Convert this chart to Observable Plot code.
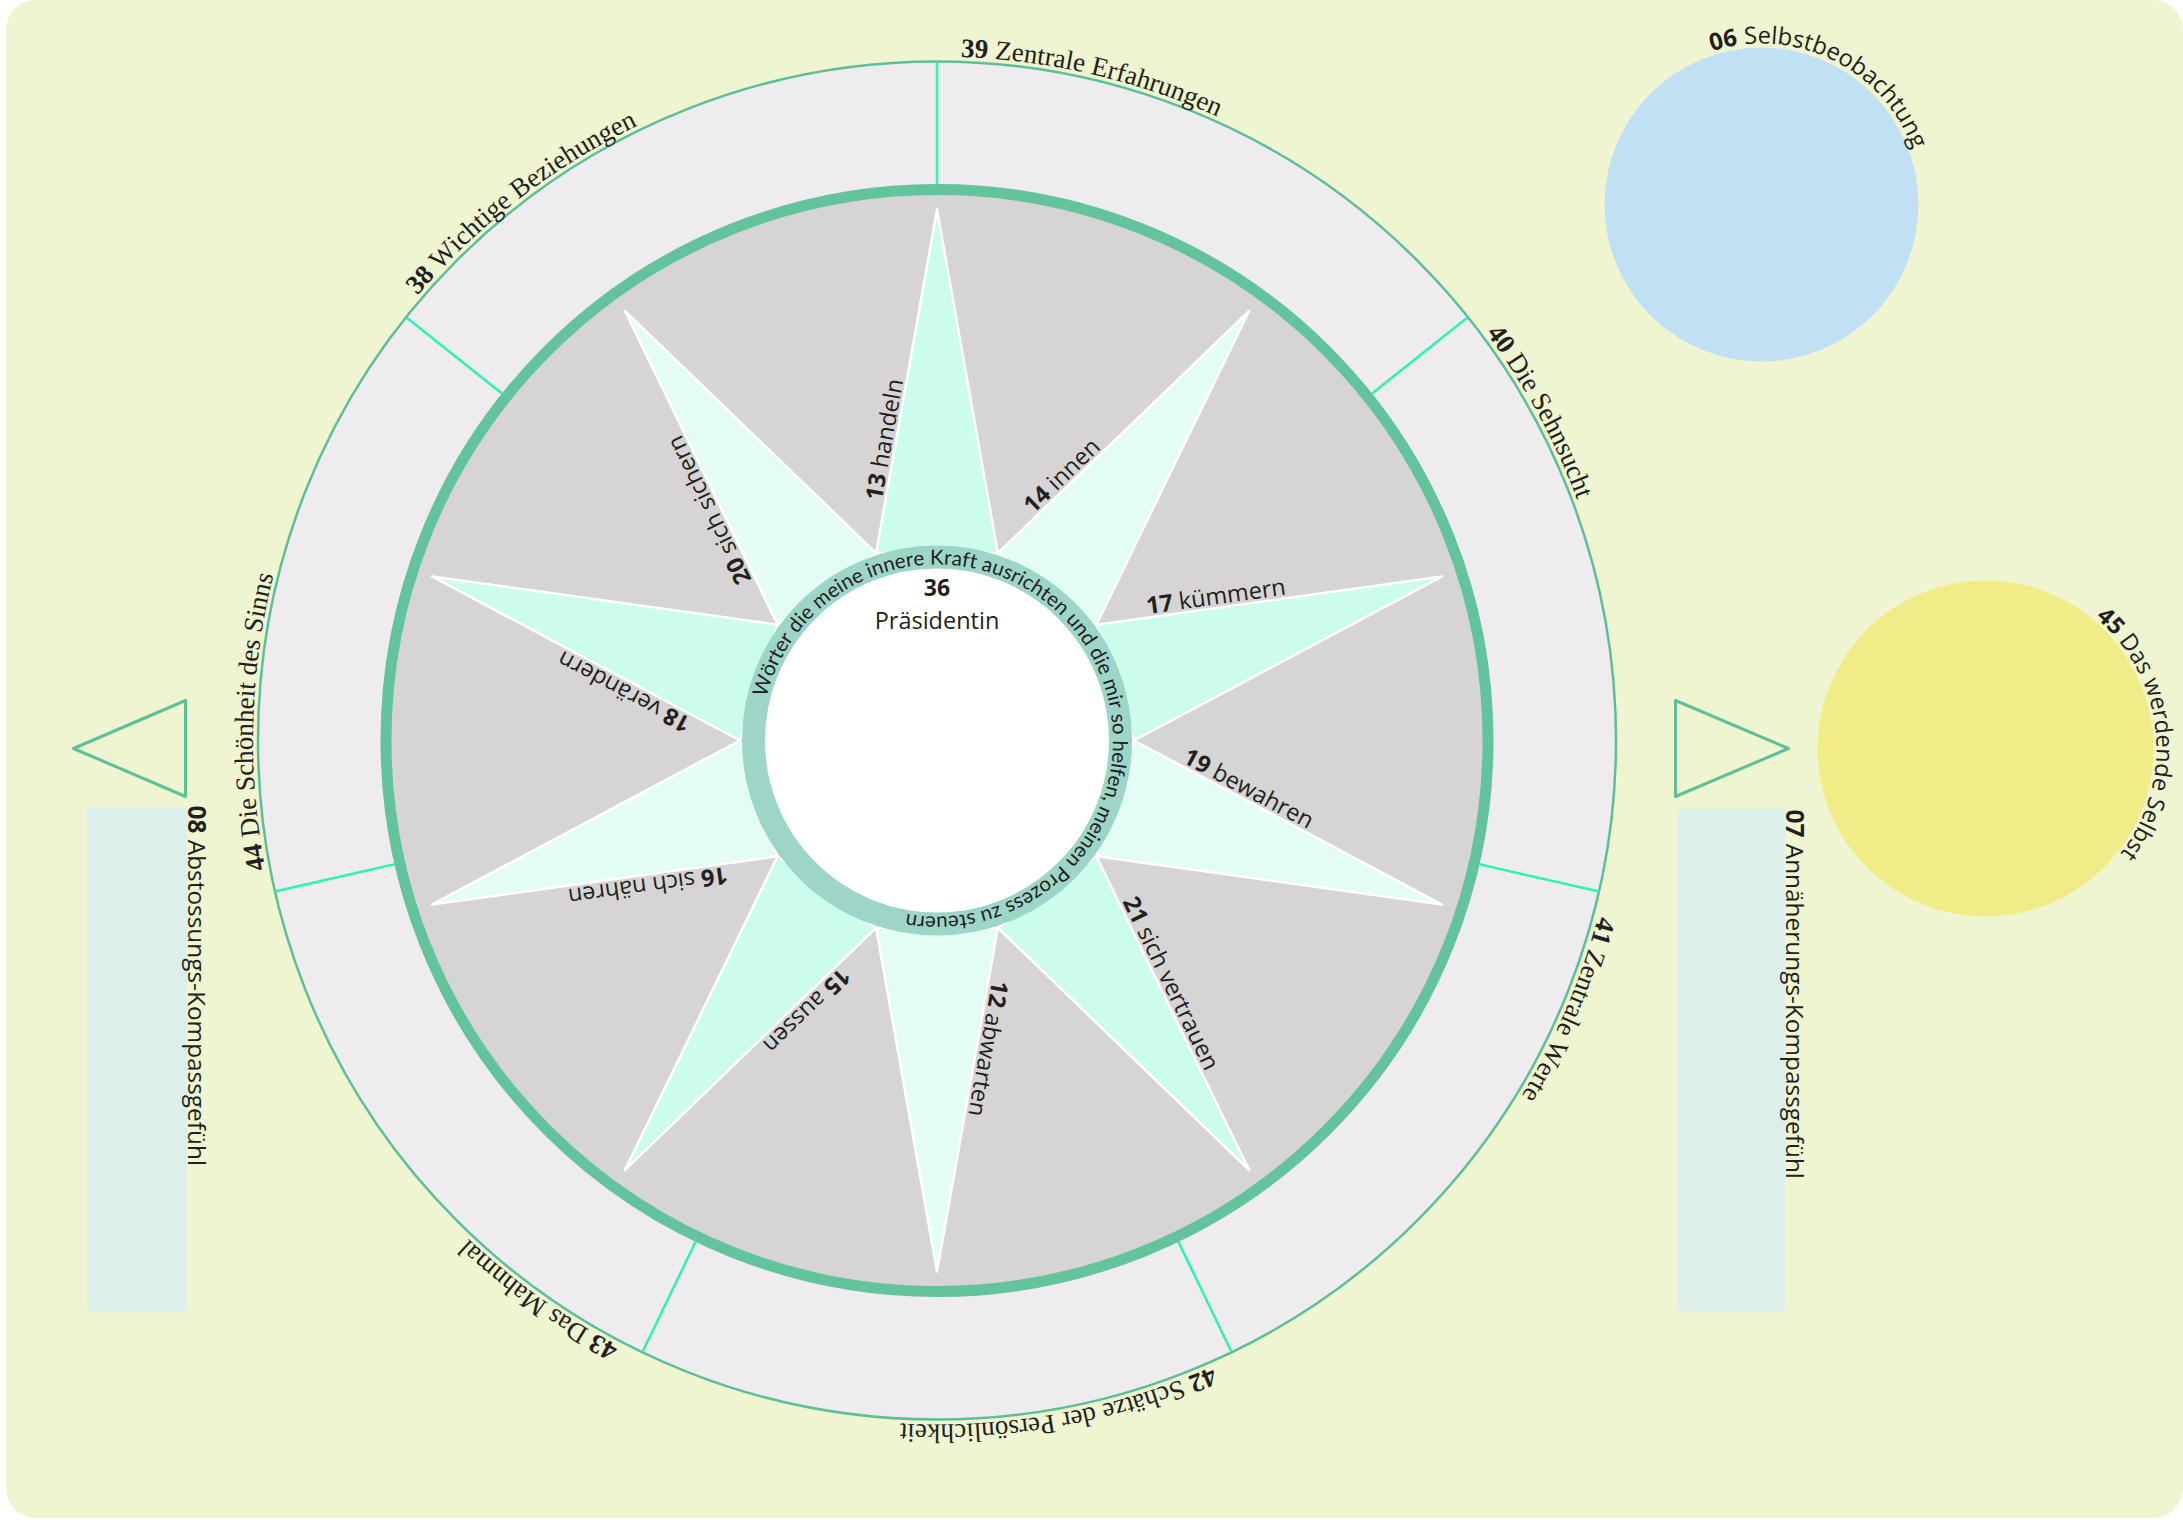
<!DOCTYPE html>
<html>
<head>
<meta charset="utf-8">
<script src="https://cdn.jsdelivr.net/npm/d3@7"></script>
<script src="https://cdn.jsdelivr.net/npm/@observablehq/plot@0.6"></script>
<style>
html, body { margin: 0; padding: 0; background: #ffffff; overflow: hidden; }
#chart svg { display: block; }
</style>
</head>
<body>
<div id="chart"></div>
<script>
// ---------------- data ----------------
// star points, clockwise from the top
const pointNumbers = ["13", "14", "17", "19", "21", "12", "15", "16", "18", "20"];
const pointNames = ["handeln", "innen", "kümmern", "bewahren", "sich vertrauen", "abwarten", "aussen", "sich nähren", "verändern", "sich sichern"];
// outer ring sectors, clockwise from the top
const sectorNumbers = ["39", "40", "41", "42", "43", "44", "38"];
const sectorNames = ["Zentrale Erfahrungen", "Die Sehnsucht", "Zentrale Werte", "Schätze der Persönlichkeit", "Das Mahnmal", "Die Schönheit des Sinns", "Wichtige Beziehungen"];
// centre
const centerNumber = "36";
const centerName = "Präsidentin";
const hubText = "Wörter die meine innere Kraft ausrichten und die mir so helfen, meinen Prozess zu steuern";
// side elements
const sideNumbers = ["08", "07"];
const sideNames = ["Abstossungs-Kompassgefühl", "Annäherungs-Kompassgefühl"];
const circleNumbers = ["06", "45"];
const circleNames = ["Selbstbeobachtung", "Das werdende Selbst"];

// ---------------- layout ----------------
const W = 2183, H = 1527;
const CX = 936.5, CY = 740;
const R_OUTER = 679, R_GREEN = 551, R_GRAY = 546, R_TIP = 531, R_BASE = 197, R_HUB = 183.5;
const deg = Math.PI / 180;
const polar = (r, a, cx = CX, cy = CY) => ({x: cx + r * Math.sin(a * deg), y: cy - r * Math.cos(a * deg)});

const INK = "#231f20";
const SANS = '"Open Sans", "Noto Sans", sans-serif';
const HUB = 'Lato, "Open Sans", sans-serif';
const SERIF = '"Liberation Serif", "DejaVu Serif", serif';

const ctx = document.createElement("canvas").getContext("2d");
function tw(text, size, family, bold) {
  ctx.font = `${bold ? "bold" : "normal"} ${size}px ${family}`;
  return ctx.measureText(text).width;
}

// characters along an arc, reading clockwise, baseline on radius r
// fit: "size" scales the font to fill [start,end]; "spacing" keeps the size and adjusts advances
function arcLayout(parts, cx, cy, r, startDeg, family, size, endDeg, fit = "size") {
  const cs = [];
  let total = 0;
  for (const p of parts) for (const ch of p.text) {
    const w = tw(ch, size, family, p.bold);
    cs.push({ch, bold: p.bold, w});
    total += w;
  }
  const k = endDeg == null ? 1 : ((endDeg - startDeg) * deg * r) / total;
  let s = 0;
  const out = [];
  for (const c of cs) {
    const w = c.w * k;
    const a = startDeg + ((s + w / 2) / r) / deg;
    const p = polar(r, a, cx, cy);
    if (c.ch !== " ") out.push({ch: c.ch, bold: c.bold, x: p.x, y: p.y, rotate: a});
    s += w;
  }
  return {chars: out, size: fit === "size" ? size * k : size};
}

function arcMarks(layout, family) {
  return [true, false].map(b => Plot.text(layout.chars.filter(c => c.bold === b), {
    x: "x", y: "y", text: "ch", rotate: "rotate",
    fontFamily: family, fontSize: layout.size, fontWeight: b ? "bold" : "normal",
    textAnchor: "middle", lineAnchor: "bottom", fill: INK
  }));
}

// ---------------- geometry built from the data ----------------
const nP = pointNumbers.length;
const step = 360 / nP;
const tri = [];
pointNumbers.forEach((num, i) => {
  const a = i * step;
  const tone = i % 2 === 0 ? "dark" : "light";
  [polar(R_BASE, a - step / 2), polar(R_TIP, a), polar(R_BASE, a + step / 2)]
    .forEach((p, j) => tri.push({id: num, tone, j, x: p.x, y: p.y}));
});

// star labels along the counter-clockwise edge of each point
const starNum = [], starName = [];
const STAR_SIZE = 23.5;
pointNumbers.forEach((num, i) => {
  const a = i * step;
  const B = polar(R_BASE, a - step / 2), T = polar(R_TIP, a);
  const len = Math.hypot(T.x - B.x, T.y - B.y);
  const ux = (T.x - B.x) / len, uy = (T.y - B.y) / len;
  const nx = uy, ny = -ux;
  const rot = Math.atan2(uy, ux) / deg;
  const d0 = 52, off = 3.5;
  const x0 = B.x + ux * d0 + nx * off, y0 = B.y + uy * d0 + ny * off;
  const d1 = tw(num, STAR_SIZE, SANS, true) + tw(" ", STAR_SIZE, SANS, false);
  starNum.push({text: num, x: x0, y: y0, rotate: rot});
  starName.push({text: pointNames[i], x: x0 + ux * d1, y: y0 + uy * d1, rotate: rot});
});

// sector dividers
const nS = sectorNumbers.length;
const sStep = 360 / nS;
const dividers = sectorNumbers.map((s, i) => {
  const a = polar(R_GREEN + 5.5, i * sStep), b = polar(R_OUTER, i * sStep);
  return {x1: a.x, y1: a.y, x2: b.x, y2: b.y};
});

// sector labels
const sectorLayouts = sectorNumbers.map((num, i) =>
  arcLayout([{text: num, bold: true}, {text: " " + sectorNames[i], bold: false}],
    CX, CY, R_OUTER + 5, i * sStep + 2, SERIF, 27));

// hub text
const hubLayout = arcLayout([{text: hubText, bold: false}], CX, CY, 176, 284, HUB, 20.5, 550, "spacing");

// circles at the right
const circles = [
  {id: circleNumbers[0], x: 1761, y: 204},
  {id: circleNumbers[1], x: 1985, y: 748}
];
const circleLayouts = [
  arcLayout([{text: circleNumbers[0], bold: true}, {text: " " + circleNames[0], bold: false}], 1761, 204, 161, -18, SANS, 24, 70),
  arcLayout([{text: circleNumbers[1], bold: true}, {text: " " + circleNames[1], bold: false}], 1985, 748, 171, 40, SANS, 24, 128)
];

// side triangles & bars
const triangles = [
  {id: "L", pts: [[185, 700], [73, 748], [185, 796]]},
  {id: "R", pts: [[1675, 700], [1788, 748], [1675, 796]]}
].flatMap(t => t.pts.map(([x, y]) => ({id: t.id, x, y})));
const bars = [
  {x1: 87, x2: 187, y1: 808, y2: 1311},
  {x1: 1677, x2: 1785, y1: 809, y2: 1311}
];
const SIDE_SIZE = 24.4;
const sideNum = [], sideName = [];
[[187, 805], [1785, 809]].forEach(([x, y], i) => {
  sideNum.push({text: sideNumbers[i], x, y});
  sideName.push({text: sideNames[i], x, y: y + tw(sideNumbers[i], SIDE_SIZE, SANS, true) + tw(" ", SIDE_SIZE, SANS, false)});
});

const center = [{x: CX, y: CY}];

// ---------------- plot ----------------
const chart = Plot.plot({
  width: W, height: H,
  margin: 0,
  x: {domain: [0, W], range: [0, W], axis: null},
  y: {domain: [0, H], range: [0, H], axis: null},
  style: {background: "#ffffff"},
  marks: [
    Plot.rect([{x1: 6, x2: 2183, y1: 0, y2: 1518}], {x1: "x1", x2: "x2", y1: "y1", y2: "y2", fill: "#f0f5d1", rx: 30}),
    // right circles
    Plot.dot(circles.slice(0, 1), {x: "x", y: "y", r: 157, fill: "#c1e0f4"}),
    Plot.dot(circles.slice(1), {x: "x", y: "y", r: 168, fill: "#f0ed89"}),
    // side bars and triangles
    Plot.rect(bars, {x1: "x1", x2: "x2", y1: "y1", y2: "y2", fill: "#dcefeb"}),
    Plot.line(triangles, {x: "x", y: "y", z: "id", curve: "linear-closed", stroke: "#5cc09a", strokeWidth: 3, fill: "none"}),
    // compass disc
    Plot.dot(center, {x: "x", y: "y", r: R_OUTER, fill: "#eeecee", stroke: "#5dbf98", strokeWidth: 2.5}),
    Plot.dot(center, {x: "x", y: "y", r: R_GRAY, fill: "#d6d4d5"}),
    Plot.dot(center, {x: "x", y: "y", r: R_GREEN, fill: "none", stroke: "#63c39d", strokeWidth: 11}),
    Plot.link(dividers, {x1: "x1", y1: "y1", x2: "x2", y2: "y2", stroke: "#2af3b5", strokeWidth: 2.5}),
    Plot.line(tri.filter(d => d.tone === "dark"), {x: "x", y: "y", z: "id", curve: "linear-closed", fill: "#ccfcec", stroke: "#ffffff", strokeWidth: 2.5}),
    Plot.line(tri.filter(d => d.tone === "light"), {x: "x", y: "y", z: "id", curve: "linear-closed", fill: "#e3fdf4", stroke: "#ffffff", strokeWidth: 2.5}),
    Plot.dot(center, {x: "x", y: "y", r: R_HUB, fill: "#ffffff", stroke: "#9dd5c8", strokeWidth: 23}),
    // star labels
    Plot.text(starNum, {x: "x", y: "y", text: "text", rotate: "rotate", fontFamily: SANS, fontSize: STAR_SIZE, fontWeight: "bold", textAnchor: "start", lineAnchor: "bottom", fill: INK}),
    Plot.text(starName, {x: "x", y: "y", text: "text", rotate: "rotate", fontFamily: SANS, fontSize: STAR_SIZE, textAnchor: "start", lineAnchor: "bottom", fill: INK}),
    // arc labels
    ...sectorLayouts.flatMap(l => arcMarks(l, SERIF)),
    ...arcMarks(hubLayout, HUB),
    ...circleLayouts.flatMap(l => arcMarks(l, SANS)),
    // centre
    Plot.text([{t: centerNumber}], {x: () => CX, y: () => 595, text: "t", fontFamily: SANS, fontSize: 23, fontWeight: "bold", textAnchor: "middle", lineAnchor: "bottom", fill: INK}),
    Plot.text([{t: centerName}], {x: () => CX, y: () => 628, text: "t", fontFamily: SANS, fontSize: 23.5, textAnchor: "middle", lineAnchor: "bottom", fill: INK}),
    // side labels
    Plot.text(sideNum, {x: "x", y: "y", text: "text", rotate: 90, fontFamily: SANS, fontSize: SIDE_SIZE, fontWeight: "bold", textAnchor: "start", lineAnchor: "bottom", fill: INK}),
    Plot.text(sideName, {x: "x", y: "y", text: "text", rotate: 90, fontFamily: SANS, fontSize: SIDE_SIZE, textAnchor: "start", lineAnchor: "bottom", fill: INK})
  ]
});
document.getElementById("chart").appendChild(chart);
</script>
</body>
</html>
